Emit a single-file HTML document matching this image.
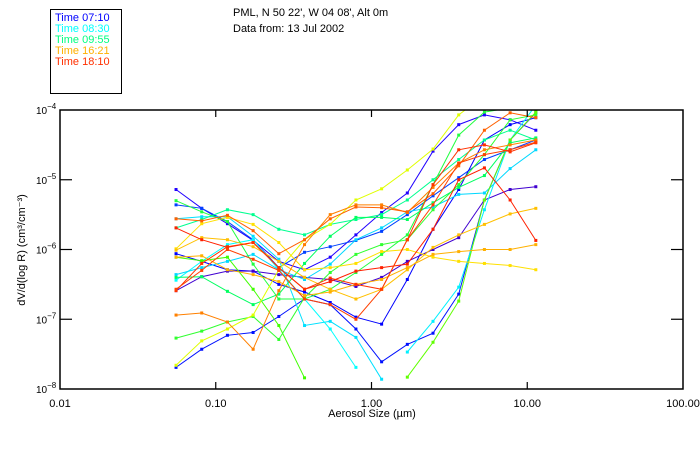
<!DOCTYPE html>
<html><head><meta charset="utf-8"><style>
body{margin:0;background:#fff;}
svg{display:block;font-family:"Liberation Sans",sans-serif;}
</style></head><body>
<svg id="chart" width="700" height="450" viewBox="0 0 700 450">
<rect x="0" y="0" width="700" height="450" fill="#fff"/>
<g>
<rect x="50.5" y="9.5" width="71" height="84" fill="none" stroke="#000" stroke-width="1"/>
<text x="55" y="21" font-size="11" fill="#0000ff">Time 07:10</text>
<text x="55" y="32" font-size="11" fill="#00ffff">Time 08:30</text>
<text x="55" y="43" font-size="11" fill="#00ff80">Time 09:55</text>
<text x="55" y="54" font-size="11" fill="#ffb000">Time 16:21</text>
<text x="55" y="65" font-size="11" fill="#ff3000">Time 18:10</text>
</g>
<text x="233" y="16" font-size="11">PML, N 50 22', W 04 08', Alt 0m</text>
<text x="233" y="32" font-size="11">Data from: 13 Jul 2002</text>
<defs><clipPath id="pc"><rect x="60" y="110" width="623" height="279"/></clipPath></defs>
<g id="series" clip-path="url(#pc)"></g>
<g id="axes"></g>
<text x="372" y="417" font-size="11" text-anchor="middle">Aerosol Size (µm)</text>
<text transform="translate(25,250) rotate(-90)" font-size="11" text-anchor="middle">dV/d(log R) (cm³/cm⁻³)</text>
</svg>
<script>
const sizesLog = [-1.255,-1.09,-0.925,-0.76,-0.595,-0.43,-0.265,-0.1,0.065,0.23,0.395,0.56,0.725,0.89,1.055];
const xTicks = [0.01,0.1,1,10,100];
const xTickLabels = ["0.01","0.10","1.00","10.00","100.00"];
const yTickExps = [-4,-5,-6,-7,-8];
const seriesColors = ["#2000ff","#0040ff","#0000ff","#0010ff","#4000d0","#00e0ff","#00ffff","#00f0ff","#00d8ff","#00ff90","#20ff40","#40ff00","#30ff30","#60ff00","#00ff60","#e0ff00","#ffe000","#ffc000","#ffb000","#ff8000","#ff6000","#ff2000","#ff3000","#ff4000"];
const s1=[-5.14,-5.41,-5.63,-5.87,-6.17,-6.29,-6.11,-5.79,-5.47,-5.19,-4.59,-4.21,-4.07,-4.14,-4.29];
const s2=[-5.36,-5.41,-5.60,-5.86,-6.26,-6.04,-5.96,-5.87,-5.74,-5.50,-5.23,-4.97,-4.71,-4.57,-4.43];
const s3=[-6.06,-6.17,-6.29,-6.31,-6.50,-6.61,-6.76,-6.97,-7.07,-6.43,-5.71,-5.14,-4.43,-4.21,-4.11];
const s4=[-7.69,-7.43,-7.23,-7.19,-6.96,-6.71,-6.79,-7.14,-7.61,-7.36,-7.20,-6.64,-5.29,-4.43,-4.04];
const s5=[-6.59,-6.39,-6.31,-6.31,-6.36,-6.40,-6.43,-6.53,-6.40,-6.17,-6.00,-5.83,-5.29,-5.14,-5.10];
const s6=[-5.56,-5.53,-5.53,-5.81,-6.14,-7.09,-7.03,-7.26,-7.86,null,null,null,null,null,null];
const s7=[-6.44,-6.17,-5.93,-5.86,-6.29,-6.71,-7.14,-7.69,null,null,null,null,null,null,null];
const s8=[null,null,null,null,null,null,null,null,null,-7.47,-7.03,-6.54,-5.43,-4.43,-3.93];
const s9=[-6.36,-6.26,-6.17,-6.07,-6.29,-6.43,-6.21,-5.86,-5.69,-5.46,-5.39,-5.21,-5.19,-4.84,-4.57];
const s10=[-5.69,-5.57,-5.43,-5.50,-5.71,-5.79,-5.64,-5.57,-5.50,-5.29,-5.00,-4.71,-4.43,-4.29,-4.43];
const s11=[-5.30,-5.46,-5.60,-6.21,-6.71,-6.71,-6.57,-6.33,-6.07,-5.79,-5.07,-4.36,-4.03,-3.97,-4.00];
const s12=[-6.11,-6.16,-6.11,-6.57,-7.09,-7.84,null,null,null,null,null,null,null,null,null];
const s13=[-7.27,-7.17,-7.04,-6.96,-7.29,-6.69,-6.33,-6.07,-5.93,-5.86,-5.43,-5.07,-4.64,-4.14,-4.07];
const s14=[null,null,null,null,null,null,null,null,null,-7.83,-7.33,-6.74,-5.29,-4.43,-4.03];
const s15=[-6.40,-6.39,-6.60,-6.79,-6.64,-6.20,-5.81,-5.54,-5.54,-5.57,-5.33,-5.11,-4.94,-4.47,-4.40];
const s16=[-7.66,-7.31,-7.14,-6.94,-6.29,-5.86,-5.64,-5.29,-5.13,-4.86,-4.56,-4.07,-3.79,-3.57,-3.43];
const s17=[-5.99,-5.63,-5.54,-5.64,-5.90,-6.29,-6.26,-6.20,-6.03,-6.00,-6.11,-6.17,-6.20,-6.23,-6.29];
const s18=[-6.01,-5.83,-5.86,-5.96,-6.17,-6.40,-6.57,-6.71,-6.57,-6.29,-5.97,-5.79,-5.64,-5.49,-5.41];
const s19=[-6.11,-6.09,-6.29,-6.36,-6.46,-6.66,-6.61,-6.50,-6.43,-6.26,-6.07,-6.03,-6.00,-6.00,-5.93];
const s20=[-6.94,-6.91,-7.04,-7.43,-6.59,-5.93,-5.50,-5.36,-5.36,-5.47,-5.11,-4.76,-4.57,-4.50,-4.43];
const s21=[-5.56,-5.59,-5.51,-5.73,-6.06,-5.86,-5.56,-5.39,-5.40,-5.46,-5.20,-4.80,-4.29,-4.04,-4.11];
const s22=[-5.69,-5.86,-5.97,-5.90,-6.26,-6.57,-6.46,-6.31,-6.26,-6.21,-5.71,-5.00,-4.83,-5.29,-5.87];
const s23=[-6.59,-6.20,-5.96,-5.90,-6.26,-6.57,-6.41,-6.50,-6.57,-5.86,-5.07,-4.57,-4.50,-4.60,-4.47];
const s24=[-6.57,-6.30,-6.00,-6.14,-6.30,-6.71,-6.79,-7.00,-6.57,-5.86,-5.36,-4.76,-4.64,-4.57,-4.46];
const allSeries=[s1,s2,s3,s4,s5,s6,s7,s8,s9,s10,s11,s12,s13,s14,s15,s16,s17,s18,s19,s20,s21,s22,s23,s24];

const NS="http://www.w3.org/2000/svg";
const L=60,R=683,T=110,B=389;
function xPos(lg){return L+(lg+2)/4*(R-L);}
function yPos(lg){return T+(-4-lg)/4*(B-T);}
function mk(tag,attrs,parent){const e=document.createElementNS(NS,tag);for(const k in attrs)e.setAttribute(k,attrs[k]);parent.appendChild(e);return e;}
const sg=document.getElementById('series');
allSeries.forEach((s,i)=>{
  const g=mk('g',{},sg);
  
  
  let d='',pen=false;
  s.forEach((v,j)=>{
    if(v===null){pen=false;return;}
    const x=xPos(sizesLog[j]),y=yPos(v);
    d+=(pen?'L':'M')+x.toFixed(1)+' '+y.toFixed(1)+' ';pen=true;
  });
  const p=mk('path',{d:d,fill:'none',stroke:seriesColors[i],'stroke-width':1},g);
  
  
  s.forEach((v,j)=>{
    if(v===null)return;
    const m=mk('rect',{x:xPos(sizesLog[j])-1.5,y:yPos(v)-1.5,width:3,height:3,fill:seriesColors[i]},g);
    
    
  });
});
const ax=document.getElementById('axes');
const frame=mk('rect',{x:L,y:T,width:R-L,height:B-T,fill:'none',stroke:'#000','stroke-width':1.5},ax);


xTicks.forEach((t,i)=>{
  const x=xPos(Math.log10(t));
  if(i>0&&i<xTicks.length-1){
    mk('line',{x1:x,x2:x,y1:B,y2:B-7,stroke:'#000','stroke-width':1.2},ax);
    mk('line',{x1:x,x2:x,y1:T,y2:T+7,stroke:'#000','stroke-width':1.2},ax);
  }
  const tx=mk('text',{x:x,y:B+18,'font-size':11,'text-anchor':'middle'},ax);
  tx.textContent=xTickLabels[i];
  
  
});
yTickExps.forEach((e,i)=>{
  const y=yPos(e);
  if(i>0&&i<yTickExps.length-1){
    mk('line',{x1:L,x2:L+12,y1:y,y2:y,stroke:'#000','stroke-width':1.2},ax);
    mk('line',{x1:R,x2:R-12,y1:y,y2:y,stroke:'#000','stroke-width':1.2},ax);
  }
  const tx=mk('text',{x:36,y:y+4,'font-size':10},ax);
  
  
  tx.appendChild(document.createTextNode('10'));
  const sp=document.createElementNS(NS,'tspan');
  sp.setAttribute('dy','-5');sp.setAttribute('font-size','8');
  sp.textContent=String(e).replace('-','−');
  tx.appendChild(sp);
});
</script>
</body></html>
